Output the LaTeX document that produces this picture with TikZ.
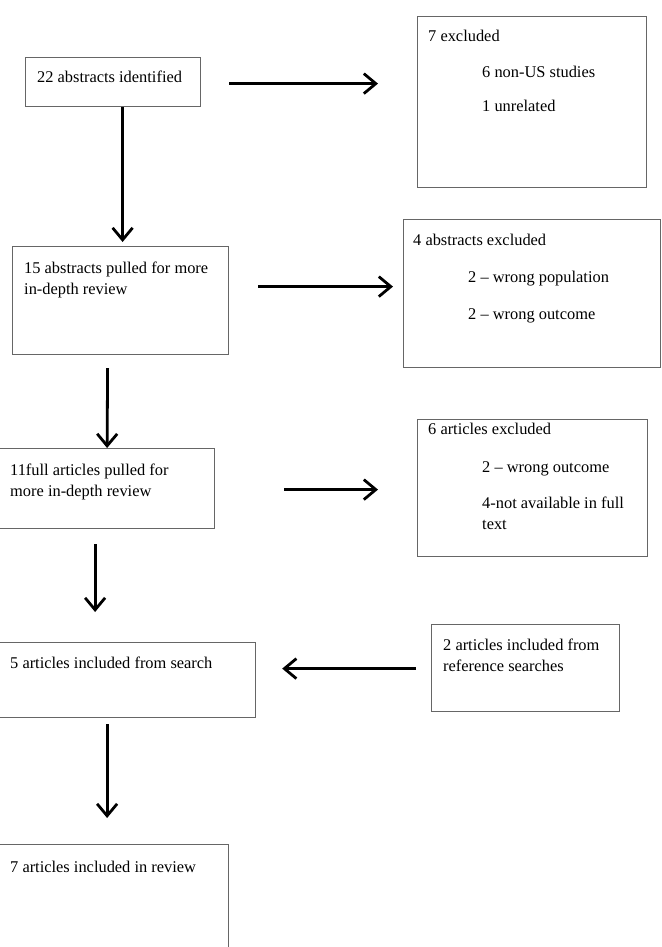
\documentclass[tikz,border=0pt]{standalone}
\usepackage{fontspec}
\setmainfont{Liberation Serif}
\usetikzlibrary{arrows.meta}
\tikzset{
  box/.style={draw=black!60, line width=1.2pt, inner sep=0pt, anchor=north west},
  txt/.style={anchor=base west, inner sep=0pt, font=\fontsize{16.4}{21.5}\selectfont},
  arr/.style={line width=2.8pt, -{Straight Barb[length=12pt,width=20pt]}}
}
\newcommand{\twolines}[1]{\parbox[t]{220pt}{#1}}
\begin{document}
\begin{tikzpicture}[x=1pt,y=-1pt]
  \useasboundingbox (0,0) rectangle (661,947);
  % left column
  \node[box, minimum width=175pt, minimum height=49pt] (ident) at (25,57) {};
  \node[box, minimum width=216pt, minimum height=108pt] (pulled) at (12,246) {};
  \node[box, minimum width=215pt, minimum height=80pt] (fulltext) at (-1,448) {};
  \node[box, minimum width=256pt, minimum height=75pt] (search) at (-1,642) {};
  \node[box, minimum width=229pt, minimum height=120pt] (review) at (-1,844) {};
  % right column
  \node[box, minimum width=229pt, minimum height=171pt] (excla) at (417,16) {};
  \node[box, minimum width=257pt, minimum height=148pt] (exclb) at (403,219) {};
  \node[box, minimum width=230pt, minimum height=137pt] (exclc) at (417,419) {};
  \node[box, minimum width=188pt, minimum height=87pt] (refs) at (431,624) {};

  \node[txt] (identtxt) at (37,83) {22 abstracts identified};
  \node[txt] (pulledtxt) at (24,273) {\twolines{15 abstracts pulled for more\\in-depth review}};
  \node[txt] (fulltxt) at (10,475) {\twolines{11full articles pulled for\\more in-depth review}};
  \node[txt] (searchtxt) at (10,668) {5 articles included from search};
  \node[txt] (reviewtxt) at (10,872) {7 articles included in review};

  \node[txt] (exclahead) at (428,42) {7 excluded};
  \node[txt] (exclaone) at (482,78) {6 non-US studies};
  \node[txt] (exclatwo) at (482,112) {1 unrelated};
  \node[txt] (exclbhead) at (413,245) {4 abstracts excluded};
  \node[txt] (exclbone) at (468,282) {2 – wrong population};
  \node[txt] (exclbtwo) at (468,319) {2 – wrong outcome};
  \node[txt] (exclchead) at (428,434) {6 articles excluded};
  \node[txt] (exclcone) at (482,472) {2 – wrong outcome};
  \node[txt] (exclctwo) at (482,508) {\twolines{4-not available in full\\text}};
  \node[txt] (refstxt) at (443,650) {\twolines{2 articles included from\\reference searches}};

  % arrows
  \draw[arr] ([shift={(28,1.5)}]ident.east) -- ([shift={(-39,-18.5)}]excla.west);
  \draw[arr] ([xshift=9.5pt]ident.south) -- ([shift={(2,-4)}]pulled.north);
  \draw[arr] ([shift={(29,-14)}]pulled.east) -- ([shift={(-10,-7)}]exclb.west);
  \draw[arr] ([shift={(-13,13)}]pulled.south) -- (fulltext.north);
  \draw[arr] ([shift={(69,1)}]fulltext.east) -- ([shift={(-39,1.5)}]exclc.west);
  \draw[arr] ([shift={(-12,15)}]fulltext.south) -- ([shift={(-32.5,-30)}]search.north);
  \draw[arr] ([shift={(-15,0.5)}]refs.west) -- ([shift={(26,-11.5)}]search.east);
  \draw[arr] ([shift={(-20.5,6)}]search.south) -- ([shift={(-7,-26)}]review.north);
\end{tikzpicture}
\end{document}
